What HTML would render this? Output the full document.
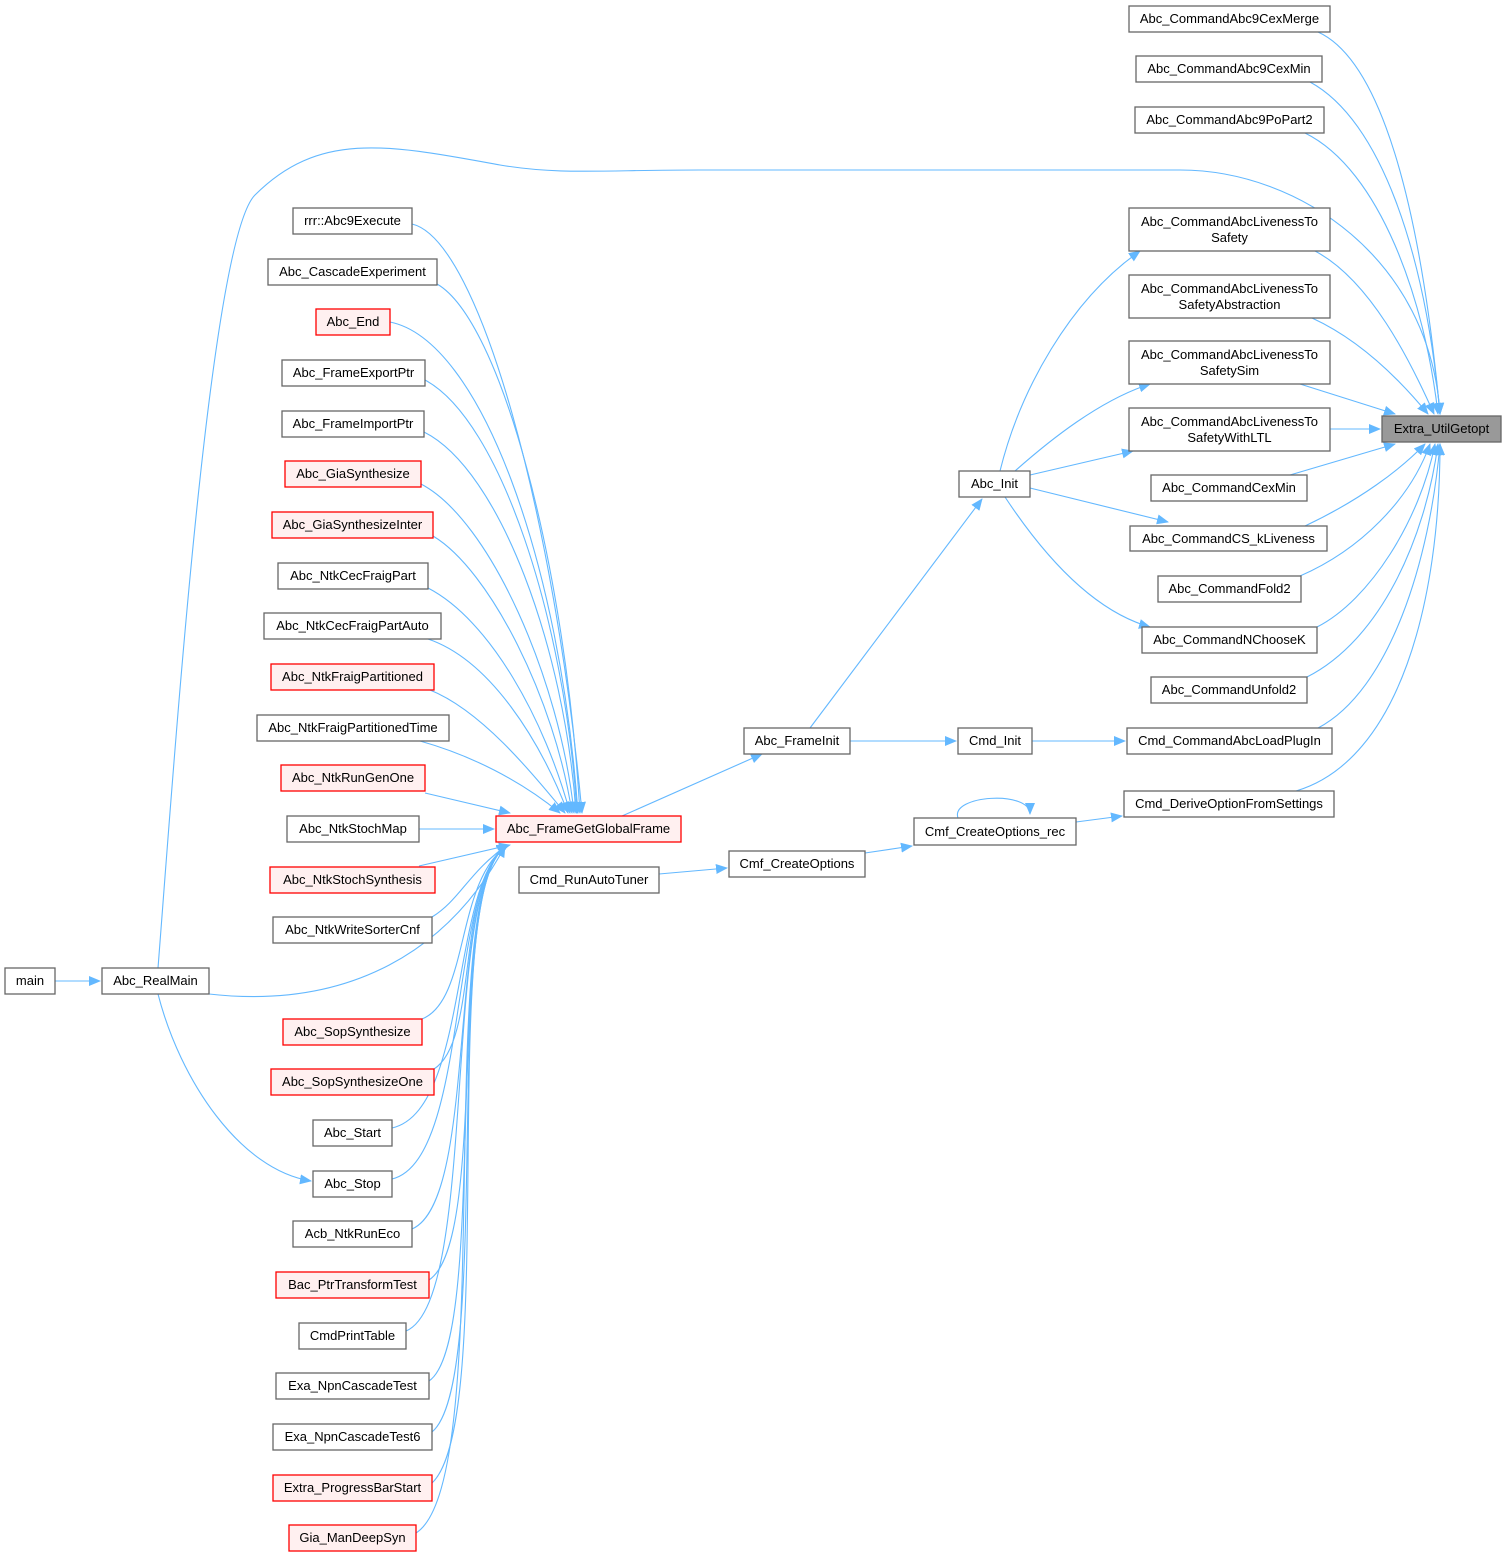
<!DOCTYPE html>
<html><head><meta charset="utf-8"><style>
html,body{margin:0;padding:0;background:#fff}
svg text{font-family:"Liberation Sans",Arial,sans-serif;font-size:13px;fill:#000;text-anchor:middle}
.n{fill:#fff;stroke:#666;stroke-width:1.3}
.r{fill:#fff0f0;stroke:#ff0000;stroke-width:1.3}
.e{fill:none;stroke:#63b8ff;stroke-width:1.1}
</style></head><body>
<svg width="1506" height="1557" viewBox="0 0 1506 1557" xmlns="http://www.w3.org/2000/svg">
<defs><marker id="a" markerWidth="12" markerHeight="10" refX="11" refY="5" orient="auto" markerUnits="userSpaceOnUse"><path d="M0,0 L12,5 L0,10 z" fill="#63b8ff"/></marker></defs>
<g class="e" marker-end="url(#a)">
<path d="M1318,32 C1380,60 1420,200 1440,414"/>
<path d="M1310,82 C1380,120 1425,250 1440,414"/>
<path d="M1305,133 C1380,170 1425,300 1438,414"/>
<path d="M158,968 C175,750 210,240 255,195 C320,130 390,145 500,165 C560,175 600,170 700,170 L1180,170 C1300,170 1430,260 1440,414"/>
<path d="M1315,251 C1370,280 1410,360 1434,414"/>
<path d="M1312,318 C1360,340 1400,380 1428,414"/>
<path d="M1300,384 L1395,414"/>
<path d="M1330,429 L1380,429"/>
<path d="M1290,475 L1395,444"/>
<path d="M1305,526 C1360,500 1400,470 1425,444"/>
<path d="M1300,576 C1360,550 1410,500 1430,444"/>
<path d="M1317,627 C1370,600 1420,520 1435,444"/>
<path d="M1307,677 C1380,640 1425,540 1438,444"/>
<path d="M1318,728 C1390,690 1430,560 1440,444"/>
<path d="M1296,791 C1400,760 1440,600 1440,444"/>
<path d="M1000,471 C1020,390 1070,300 1140,251"/>
<path d="M1015,471 C1050,440 1100,400 1150,384"/>
<path d="M1030,475 L1133,451"/>
<path d="M1030,488 L1168,522"/>
<path d="M1005,497 C1040,550 1090,610 1150,627"/>
<path d="M810,728 L982,499"/>
<path d="M850,741 L956,741"/>
<path d="M1032,741 L1125,741"/>
<path d="M1076,822 L1122,816"/>
<path d="M958,818 C950,795 1030,790 1030,814"/>
<path d="M865,853 L912,846"/>
<path d="M659,874 L727,868"/>
<path d="M622,816 L762,754"/>
<path d="M55,981 L100,981"/>
<path d="M209,994 C350,1010 450,950 505,846"/>
<path d="M158,994 C180,1080 240,1170 311,1181"/>
<path d="M412,224 C480,240 555,520 582,813"/>
<path d="M437,284 C500,320 565,560 580,813"/>
<path d="M390,322 C480,340 560,560 578,813"/>
<path d="M425,380 C500,420 565,620 577,813"/>
<path d="M424,432 C500,470 565,650 576,813"/>
<path d="M421,484 C490,520 560,680 574,813"/>
<path d="M433,536 C490,570 555,700 572,813"/>
<path d="M428,588 C490,620 545,720 570,813"/>
<path d="M428,639 C490,660 540,740 568,813"/>
<path d="M430,690 C480,710 530,770 565,813"/>
<path d="M420,741 C470,755 520,780 560,813"/>
<path d="M425,793 L510,813"/>
<path d="M419,829 L494,829"/>
<path d="M419,866 L510,845"/>
<path d="M432,917 C460,900 470,870 508,845"/>
<path d="M422,1019 C470,1000 455,880 508,845"/>
<path d="M434,1069 C480,1040 455,880 508,845"/>
<path d="M392,1128 C470,1110 450,880 508,845"/>
<path d="M392,1179 C470,1160 448,880 508,845"/>
<path d="M412,1229 C480,1200 445,880 508,845"/>
<path d="M429,1280 C490,1240 445,880 508,845"/>
<path d="M406,1331 C480,1300 440,880 508,845"/>
<path d="M429,1381 C490,1340 440,880 508,845"/>
<path d="M432,1432 C495,1380 438,880 508,845"/>
<path d="M432,1483 C500,1420 435,880 508,845"/>
<path d="M416,1533 C500,1480 430,880 508,845"/>
</g>
<rect class="n" x="1129" y="6" width="201" height="26"/><text x="1229.5" y="23">Abc_CommandAbc9CexMerge</text>
<rect class="n" x="1136" y="56" width="186" height="26"/><text x="1229" y="73">Abc_CommandAbc9CexMin</text>
<rect class="n" x="1135" y="107" width="189" height="26"/><text x="1229.5" y="124">Abc_CommandAbc9PoPart2</text>
<rect class="n" x="1129" y="208" width="201" height="43"/><text x="1229.5" y="226">Abc_CommandAbcLivenessTo</text><text x="1229.5" y="242">Safety</text>
<rect class="n" x="1129" y="275" width="201" height="43"/><text x="1229.5" y="293">Abc_CommandAbcLivenessTo</text><text x="1229.5" y="309">SafetyAbstraction</text>
<rect class="n" x="1129" y="341" width="201" height="43"/><text x="1229.5" y="359">Abc_CommandAbcLivenessTo</text><text x="1229.5" y="375">SafetySim</text>
<rect class="n" x="1129" y="408" width="201" height="43"/><text x="1229.5" y="426">Abc_CommandAbcLivenessTo</text><text x="1229.5" y="442">SafetyWithLTL</text>
<rect class="n" x="1151" y="475" width="156" height="26"/><text x="1229" y="492">Abc_CommandCexMin</text>
<rect class="n" x="1130" y="526" width="197" height="25"/><text x="1228.5" y="543">Abc_CommandCS_kLiveness</text>
<rect class="n" x="1158" y="576" width="143" height="26"/><text x="1229.5" y="593">Abc_CommandFold2</text>
<rect class="n" x="1142" y="627" width="175" height="26"/><text x="1229.5" y="644">Abc_CommandNChooseK</text>
<rect class="n" x="1151" y="677" width="156" height="26"/><text x="1229" y="694">Abc_CommandUnfold2</text>
<rect class="n" x="1127" y="728" width="205" height="26"/><text x="1229.5" y="745">Cmd_CommandAbcLoadPlugIn</text>
<rect class="n" x="1124" y="791" width="210" height="26"/><text x="1229" y="808">Cmd_DeriveOptionFromSettings</text>
<rect x="1382" y="416" width="119" height="26" fill="#999" stroke="#666" stroke-width="1.3"/><text x="1441.5" y="433">Extra_UtilGetopt</text>
<rect class="n" x="959" y="471" width="71" height="26"/><text x="994.5" y="488">Abc_Init</text>
<rect class="n" x="744" y="728" width="106" height="26"/><text x="797" y="745">Abc_FrameInit</text>
<rect class="n" x="958" y="728" width="74" height="26"/><text x="995" y="745">Cmd_Init</text>
<rect class="n" x="914" y="818" width="162" height="27"/><text x="995" y="836">Cmf_CreateOptions_rec</text>
<rect class="n" x="729" y="851" width="136" height="26"/><text x="797" y="868">Cmf_CreateOptions</text>
<rect class="n" x="519" y="867" width="140" height="26"/><text x="589" y="884">Cmd_RunAutoTuner</text>
<rect class="r" x="496" y="816" width="185" height="26"/><text x="588.5" y="833">Abc_FrameGetGlobalFrame</text>
<rect class="n" x="5" y="968" width="50" height="26"/><text x="30" y="985">main</text>
<rect class="n" x="102" y="968" width="107" height="26"/><text x="155.5" y="985">Abc_RealMain</text>
<rect class="n" x="293" y="208" width="119" height="26"/><text x="352.5" y="225">rrr::Abc9Execute</text>
<rect class="n" x="268" y="259" width="169" height="26"/><text x="352.5" y="276">Abc_CascadeExperiment</text>
<rect class="r" x="316" y="309" width="74" height="26"/><text x="353" y="326">Abc_End</text>
<rect class="n" x="282" y="360" width="143" height="26"/><text x="353.5" y="377">Abc_FrameExportPtr</text>
<rect class="n" x="282" y="411" width="142" height="26"/><text x="353" y="428">Abc_FrameImportPtr</text>
<rect class="r" x="285" y="461" width="136" height="26"/><text x="353" y="478">Abc_GiaSynthesize</text>
<rect class="r" x="272" y="512" width="161" height="26"/><text x="352.5" y="529">Abc_GiaSynthesizeInter</text>
<rect class="n" x="278" y="563" width="150" height="26"/><text x="353" y="580">Abc_NtkCecFraigPart</text>
<rect class="n" x="264" y="613" width="177" height="26"/><text x="352.5" y="630">Abc_NtkCecFraigPartAuto</text>
<rect class="r" x="271" y="664" width="163" height="26"/><text x="352.5" y="681">Abc_NtkFraigPartitioned</text>
<rect class="n" x="257" y="715" width="192" height="26"/><text x="353" y="732">Abc_NtkFraigPartitionedTime</text>
<rect class="r" x="281" y="765" width="144" height="26"/><text x="353" y="782">Abc_NtkRunGenOne</text>
<rect class="n" x="287" y="816" width="132" height="26"/><text x="353" y="833">Abc_NtkStochMap</text>
<rect class="r" x="270" y="867" width="165" height="26"/><text x="352.5" y="884">Abc_NtkStochSynthesis</text>
<rect class="n" x="273" y="917" width="159" height="26"/><text x="352.5" y="934">Abc_NtkWriteSorterCnf</text>
<rect class="r" x="283" y="1019" width="139" height="26"/><text x="352.5" y="1036">Abc_SopSynthesize</text>
<rect class="r" x="271" y="1069" width="163" height="26"/><text x="352.5" y="1086">Abc_SopSynthesizeOne</text>
<rect class="n" x="313" y="1120" width="79" height="26"/><text x="352.5" y="1137">Abc_Start</text>
<rect class="n" x="313" y="1171" width="79" height="26"/><text x="352.5" y="1188">Abc_Stop</text>
<rect class="n" x="293" y="1221" width="119" height="26"/><text x="352.5" y="1238">Acb_NtkRunEco</text>
<rect class="r" x="276" y="1272" width="153" height="26"/><text x="352.5" y="1289">Bac_PtrTransformTest</text>
<rect class="n" x="299" y="1323" width="107" height="26"/><text x="352.5" y="1340">CmdPrintTable</text>
<rect class="n" x="276" y="1373" width="153" height="26"/><text x="352.5" y="1390">Exa_NpnCascadeTest</text>
<rect class="n" x="273" y="1424" width="159" height="26"/><text x="352.5" y="1441">Exa_NpnCascadeTest6</text>
<rect class="r" x="273" y="1475" width="159" height="26"/><text x="352.5" y="1492">Extra_ProgressBarStart</text>
<rect class="r" x="289" y="1525" width="127" height="26"/><text x="352.5" y="1542">Gia_ManDeepSyn</text>
</svg>
</body></html>
